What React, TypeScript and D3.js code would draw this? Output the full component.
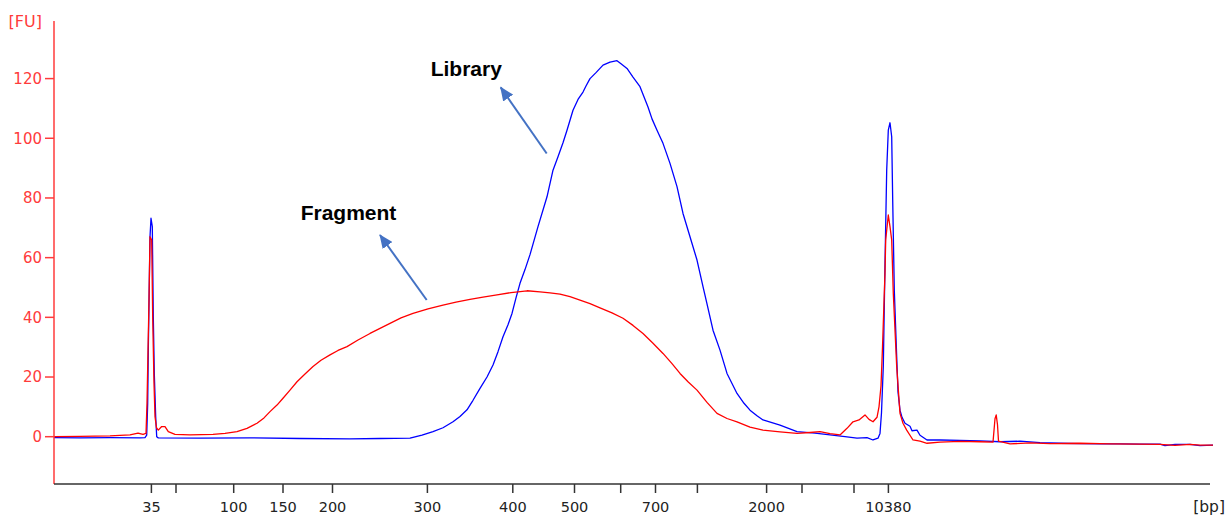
import React from 'react';
import * as d3 from 'd3';

// Ladder (bp) and their migration times (s)
const ladderSizes = [35, 50, 100, 150, 200, 300, 400, 500, 600, 700, 1000, 2000, 3000, 7000, 10380];
const ladderTimes = [29.74, 32.2, 37.97, 42.9, 47.85, 57.34, 65.88, 72.05, 76.67, 80.15, 84.34, 91.26, 94.8, 100, 103.44];
const labeledSizes = [35, 100, 150, 200, 300, 400, 500, 700, 2000, 10380];
const yTicks = [0, 20, 40, 60, 80, 100, 120];

// Library trace (blue)
const libraryTime = [
  20.0, 22.6, 25.6, 28.6, 29.1, 29.27, 29.37, 29.43, 29.6, 29.7, 29.83, 29.93, 30.03, 30.17, 30.27, 30.43,
  34.6, 39.6, 44.6, 49.6, 52.6, 55.6, 56.8, 57.9, 58.9, 59.9, 60.6, 61.3, 61.9, 62.6, 63.3, 63.9, 64.4,
  64.9, 65.4, 65.8, 66.2, 66.6, 67.1, 67.6, 68.4, 69.3, 69.9, 70.4, 70.9, 71.3, 71.9, 72.4, 72.9, 73.2,
  73.6, 74.2, 74.9, 75.6, 76.3, 76.7, 77.3, 77.9, 78.6, 79.4, 79.8, 80.3, 80.9, 81.6, 82.3, 82.9, 83.6,
  84.3, 84.6, 84.9, 85.3, 85.9, 86.6, 87.3, 88.3, 89.0, 89.6, 90.3, 90.9, 92.6, 94.3, 96.1, 97.6, 99.1,
  100.3, 101.3, 101.9, 102.4, 102.6, 102.75, 102.93, 103.1, 103.27, 103.43, 103.6, 103.77, 103.87, 104.03,
  104.27, 104.4, 104.6, 104.8, 105.1, 105.6, 105.8, 106.3, 106.6, 107.3, 108.6, 110.6, 112.6, 114.6, 116.6,
  118.6, 120.6, 122.6, 124.6, 126.6, 128.6, 130.6, 131.1, 132.1, 133.6, 134.6, 135.9,
];
const libraryFU = [
  -0.3, -0.4, -0.3, -0.4, -0.3, 0.5, 11.2, 29, 67, 73.2, 70.4, 40.2, 21.2, 6.7, 0, -0.4,
  -0.5, -0.4, -0.6, -0.7, -0.6, -0.5, 0.5, 1.7, 3, 5, 6.8, 9, 12.2, 16.2, 20, 24, 28.5,
  33.5, 37.5, 41.3, 46.5, 51.4, 56, 61, 70.4, 80.4, 89.3, 93.8, 98.5, 102.7, 109.4, 113, 115.5, 117.5,
  120, 122, 124.5, 125.5, 126, 125, 123.4, 120.5, 117.3, 110.5, 106.5, 102.7, 98.3, 91.6, 83.8, 74.8, 67,
  59.2, 54.7, 50.3, 44.5, 35.7, 29, 21.2, 14.5, 11.2, 8.9, 7, 5.6, 3.9, 1.7, 1.2, 0.6, 0,
  -0.5, -0.3, -1.1, -0.5, 1.1, 8, 23.5, 58, 89.3, 102.7, 105.2, 100.5, 79.3, 49.1,
  26.8, 15, 8.9, 6.5, 4.5, 3.5, 2, 2.2, 0.5, -1.1, -1.1, -1.2, -1.4, -1.7, -1.5,
  -2.0, -2.2, -2.3, -2.4, -2.4, -2.5, -2.5, -3.0, -2.6, -2.6, -3.0, -2.8,
];

// Fragment trace (red)
const fragmentTime = [
  20.0, 22.6, 25.6, 27.6, 28.4, 28.9, 29.2, 29.3, 29.5, 29.6, 29.77, 29.87, 30.0, 30.1, 30.25, 30.43,
  30.77, 31.1, 31.43, 32.1, 33.6, 35.9, 37.1, 38.3, 39.3, 40.3, 41.0, 41.6, 42.3, 42.9, 43.6, 44.3,
  45.1, 45.9, 46.7, 47.6, 48.4, 49.3, 50.4, 51.6, 52.6, 53.6, 54.7, 55.9, 57.4, 58.9, 60.2, 61.6,
  62.9, 64.3, 65.7, 67.3, 68.6, 69.6, 70.6, 71.6, 72.6, 73.6, 74.6, 75.8, 76.9, 77.9, 78.9, 79.9,
  80.9, 81.8, 82.6, 83.4, 84.3, 85.3, 86.3, 87.3, 88.3, 89.6, 90.9, 92.6, 94.3, 95.6, 96.6, 97.6,
  98.6, 99.3, 99.9, 100.5, 101.1, 101.5, 101.9, 102.3, 102.5, 102.7, 102.85, 102.95, 103.1, 103.17,
  103.43, 103.6, 103.77, 103.93, 104.27, 104.6, 104.9, 105.27, 105.9, 106.6, 107.3, 108.6, 110.6,
  112.6, 113.9, 114.1, 114.22, 114.35, 114.45, 115.6, 117.6, 119.6, 122.6, 125.6, 128.6, 130.6,
  132.1, 133.6, 134.6, 135.9,
];
const fragmentFU = [
  0, 0.1, 0.3, 0.6, 1.2, 0.8, 1.1, 11.2, 45.8, 67, 65.9, 40, 17.9, 6.7, 3, 2.2,
  3.4, 3.4, 1.7, 0.8, 0.6, 0.8, 1.1, 1.7, 2.8, 4.5, 6.3, 8.4, 10.6, 12.9, 15.6, 18.4,
  21, 23.5, 25.6, 27.4, 28.9, 30.2, 32.4, 34.6, 36.3, 38, 39.8, 41.3, 42.8, 44.1, 45.1, 46,
  46.8, 47.5, 48.3, 48.9, 48.5, 48.2, 47.8, 46.9, 45.8, 44.6, 43.2, 41.5, 39.7, 37.3, 34.6, 31.3,
  27.9, 24.5, 21.2, 18.4, 15.6, 11.5, 7.8, 6.1, 5, 3.2, 2.2, 1.6, 1.1, 1.4, 1.7, 1.0,
  0.6, 2.8, 5, 5.6, 7.3, 5.8, 5, 6.5, 10, 17, 30, 40, 55, 65.9,
  74.3, 70.4, 65.9, 48, 23.5, 7.8, 4.5, 2.2, -1.1, -1.5, -2.2, -1.8, -1.6,
  -1.7, -1.8, 6, 7.3, 4, -1.5, -2.4, -2.1, -2.3, -2.2, -2.4, -2.5, -2.6,
  -2.9, -2.6, -2.8, -2.8,
];

// Annotations in data units (time, FU)
const annotationLabels = ['Library', 'Fragment'];
const annotationTextAt = [[57.67, 120.9], [44.67, 72.6]];
const annotationArrowFrom = [[69.27, 94.9], [57.27, 45.8]];
const annotationArrowTo = [[64.67, 117.05], [52.6, 67.6]];

const W = 1232;
const H = 517;

export default function App() {
  const x = d3.scaleLinear().domain([20, 135.6]).range([54, 1210]);
  const y = d3.scaleLinear().domain([-15.85, 139.3]).range([484, 21]);

  const makePath = (ts: number[], vs: number[]) =>
    d3
      .line<number>()
      .x((t) => x(t))
      .y((_, i) => y(vs[i]))(ts) as string;

  const libPath = makePath(libraryTime, libraryFU);
  const fragPath = makePath(fragmentTime, fragmentFU);

  const axisRed = '#ff3b3b';
  const axisDark = '#333333';
  const font = '"DejaVu Sans", Verdana, sans-serif';

  const [x0, x1] = x.range();
  const [yb, yt] = y.range();

  return (
    <svg
      width={W}
      height={H}
      style={{ position: 'absolute', left: 0, top: 0, background: '#fff' }}
    >
      <defs>
        <marker
          id="arrowHead"
          markerUnits="userSpaceOnUse"
          markerWidth={14}
          markerHeight={12}
          refX={13}
          refY={6}
          orient="auto"
        >
          <path d="M0,0 L14,6 L0,12 Z" fill="#4472c4" />
        </marker>
      </defs>

      {/* traces */}
      <path d={libPath} fill="none" stroke="#0000ff" strokeWidth={1.3} strokeLinejoin="round" />
      <path d={fragPath} fill="none" stroke="#ff0000" strokeWidth={1.3} strokeLinejoin="round" />

      {/* y axis */}
      <line x1={x0} x2={x0} y1={yt} y2={yb} stroke={axisRed} strokeWidth={1.5} />
      {yTicks.map((v) => (
        <g key={'y' + v}>
          <line x1={x0 - 9} x2={x0} y1={y(v)} y2={y(v)} stroke={axisRed} strokeWidth={1.5} />
          <text
            x={x0 - 12}
            y={y(v)}
            dy="0.36em"
            textAnchor="end"
            fill={axisRed}
            fontFamily={font}
            fontSize={15}
          >
            {v}
          </text>
        </g>
      ))}
      <text x={42} y={27} textAnchor="end" fill={axisRed} fontFamily={font} fontSize={16}>
        [FU]
      </text>

      {/* x axis */}
      <line x1={x0} x2={x1} y1={yb} y2={yb} stroke={axisDark} strokeWidth={1.5} />
      {ladderSizes.map((s, i) => (
        <g key={'x' + s}>
          <line
            x1={x(ladderTimes[i])}
            x2={x(ladderTimes[i])}
            y1={yb}
            y2={yb + 9}
            stroke={axisDark}
            strokeWidth={1.5}
          />
          {labeledSizes.includes(s) && (
            <text
              x={x(ladderTimes[i])}
              y={yb + 28}
              textAnchor="middle"
              fill="#222"
              fontFamily={font}
              fontSize={14.5}
            >
              {s}
            </text>
          )}
        </g>
      ))}
      <text x={1225} y={512} textAnchor="end" fill="#222" fontFamily={font} fontSize={15.5}>
        [bp]
      </text>

      {/* annotations */}
      {annotationLabels.map((lab, i) => (
        <g key={lab}>
          <line
            x1={x(annotationArrowFrom[i][0])}
            y1={y(annotationArrowFrom[i][1])}
            x2={x(annotationArrowTo[i][0])}
            y2={y(annotationArrowTo[i][1])}
            stroke="#4472c4"
            strokeWidth={2}
            markerEnd="url(#arrowHead)"
          />
          <text
            x={x(annotationTextAt[i][0])}
            y={y(annotationTextAt[i][1])}
            fontFamily='"Liberation Sans", Arial, sans-serif'
            fontWeight="bold"
            fontSize={21}
            fill="#000"
          >
            {lab}
          </text>
        </g>
      ))}
    </svg>
  );
}
